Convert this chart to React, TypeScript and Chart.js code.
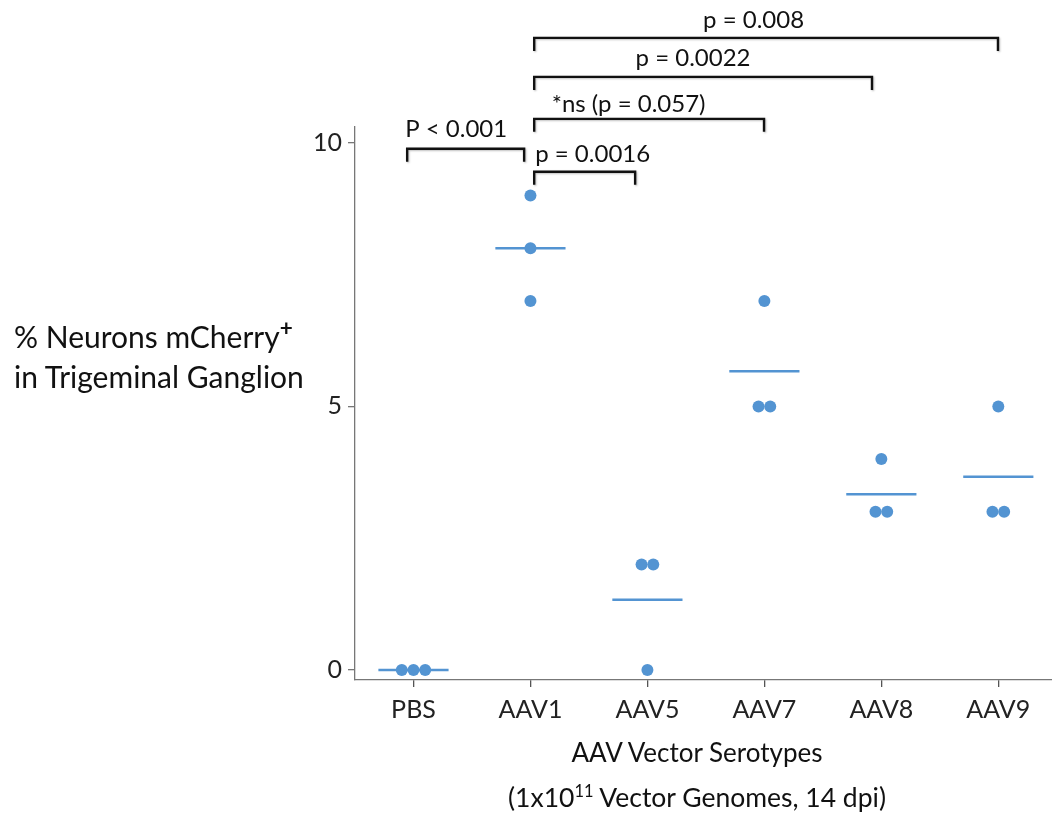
import React, { useEffect, useRef } from 'react';
import { Chart, registerables } from 'chart.js';

Chart.register(...registerables);

// ---- data ----
const categories = ['PBS', 'AAV1', 'AAV5', 'AAV7', 'AAV8', 'AAV9'];
const pbsValues = [0, 0, 0];
const aav1Values = [9, 8, 7];
const aav5Values = [2, 2, 0];
const aav7Values = [7, 5, 5];
const aav8Values = [4, 3, 3];
const aav9Values = [5, 3, 3];
const groupValues = [pbsValues, aav1Values, aav5Values, aav7Values, aav8Values, aav9Values];
const yTickValues = [0, 5, 10];

// comparisons: [from group, to group, label]
const comparisonFrom = [0, 1, 1, 1, 1];
const comparisonTo = [1, 2, 3, 4, 5];
const comparisonLabels = ['P < 0.001', 'p = 0.0016', '*ns (p = 0.057)', 'p = 0.0022', 'p = 0.008'];

// ---- annotation layout (in axis units) ----
const bracketLevels = [9.886, 9.45, 10.455, 11.25, 11.99];
const bracketStartOffset = [-0.054, 0.032, 0.032, 0.032, 0.032];
const bracketEndOffset = [-0.054, -0.105, -0.003, -0.08, -0.003];
const labelCenters = [0.365, 1.532, 1.839, 2.39, 2.908];
const labelBaselines = [10.11, 9.64, 10.59, 11.46, 12.18];

const BLUE = '#5394D2';
const FONT = 'Lato, "Open Sans", sans-serif';

function jitter(values: number[]): { x: number; y: number }[] {
  return values.map((v, i) => {
    const same = values.filter((w) => w === v).length;
    const rank = values.slice(0, i).filter((w) => w === v).length;
    return { x: (rank - (same - 1) / 2) * 0.1, y: v };
  });
}

const bracketPlugin = {
  id: 'brackets',
  afterDraw(chart: any) {
    const { ctx, scales } = chart;
    const xs = scales.x;
    const ys = scales.y;
    ctx.save();
    for (let i = 0; i < comparisonLabels.length; i++) {
      const x1 = xs.getPixelForValue(comparisonFrom[i] + bracketStartOffset[i]);
      const x2 = xs.getPixelForValue(comparisonTo[i] + bracketEndOffset[i]);
      const y = ys.getPixelForValue(bracketLevels[i]);
      const depth = 13;
      ctx.shadowColor = 'rgba(0,0,0,0.25)';
      ctx.shadowBlur = 2;
      ctx.shadowOffsetX = 1;
      ctx.shadowOffsetY = 1;
      ctx.strokeStyle = '#111';
      ctx.lineWidth = 2.4;
      ctx.lineCap = 'butt';
      ctx.lineJoin = 'miter';
      ctx.beginPath();
      ctx.moveTo(x1, y + depth);
      ctx.lineTo(x1, y);
      ctx.lineTo(x2, y);
      ctx.lineTo(x2, y + depth);
      ctx.stroke();
      ctx.shadowColor = 'transparent';
      ctx.fillStyle = '#111';
      ctx.font = '24px ' + FONT;
      ctx.textAlign = 'center';
      ctx.textBaseline = 'alphabetic';
      ctx.fillText(comparisonLabels[i], xs.getPixelForValue(labelCenters[i]), ys.getPixelForValue(labelBaselines[i]));
    }
    ctx.restore();
  },
};

export default function App() {
  const canvasRef = useRef<HTMLCanvasElement | null>(null);

  useEffect(() => {
    if (!canvasRef.current) return;
    const pointSets = groupValues.map((vals, gi) => ({
      type: 'scatter' as const,
      data: jitter(vals).map((p) => ({ x: gi + p.x, y: p.y })),
      backgroundColor: BLUE,
      borderColor: BLUE,
      borderWidth: 0,
      pointRadius: 6,
      order: 0,
    }));
    const meanSets = groupValues.map((vals, gi) => {
      const m = vals.reduce((a, b) => a + b, 0) / vals.length;
      return {
        type: 'line' as const,
        data: [
          { x: gi - 0.3, y: m },
          { x: gi + 0.3, y: m },
        ],
        borderColor: BLUE,
        borderWidth: 2.6,
        pointRadius: 0,
        fill: false,
        order: 1,
      };
    });

    const chart = new Chart(canvasRef.current, {
      type: 'scatter',
      data: { datasets: [...meanSets, ...pointSets] as any },
      options: {
        animation: false,
        responsive: false,
        layout: { autoPadding: false, padding: { top: 127, right: 0, left: 0, bottom: 0 } },
        plugins: { legend: { display: false }, tooltip: { enabled: false } },
        scales: {
          x: {
            type: 'linear',
            min: -0.5,
            max: 5.459,
            afterFit(scale: any) {
              scale.height = 136;
              scale.paddingLeft = 0;
              scale.paddingRight = 0;
            },
            afterBuildTicks(scale: any) {
              scale.ticks = categories.map((_, i) => ({ value: i }));
            },
            ticks: {
              callback: (v: any) => categories[Number(v)] ?? '',
              color: '#222',
              font: { family: FONT, size: 25 },
              padding: 8,
              maxRotation: 0,
              autoSkip: false,
            },
            grid: { drawOnChartArea: false, drawTicks: true, tickLength: 7, color: '#555', lineWidth: 1.3 },
            border: { display: true, color: '#777', width: 1.3 },
          },
          y: {
            type: 'linear',
            min: -0.19,
            max: 10.3,
            afterFit(scale: any) {
              scale.width = 355;
              scale.paddingTop = 0;
              scale.paddingBottom = 0;
            },
            afterBuildTicks(scale: any) {
              scale.ticks = yTickValues.map((v) => ({ value: v }));
            },
            ticks: {
              color: '#222',
              font: { family: FONT, size: 25 },
              padding: 6,
            },
            grid: { drawOnChartArea: false, drawTicks: true, tickLength: 7, color: '#777', lineWidth: 1.3 },
            border: { display: true, color: '#777', width: 1.3 },
          },
        },
      },
      plugins: [bracketPlugin],
    } as any);
    return () => chart.destroy();
  }, []);

  const textStyle: React.CSSProperties = {
    position: 'absolute',
    fontFamily: FONT,
    color: '#111',
    whiteSpace: 'nowrap',
  };

  return (
    <div style={{ position: 'fixed', left: 0, top: 0, width: 1052, height: 816, overflow: 'hidden', background: '#fff' }}>
      <canvas ref={canvasRef} width={1052} height={816} style={{ position: 'absolute', left: 0, top: 0, width: 1052, height: 816 }} />
      <div style={{ ...textStyle, fontSize: 30, left: 14, top: 318, lineHeight: '37px' }}>
        <div>
          % Neurons mCherry
          <span style={{ fontSize: '0.75em', fontWeight: 700, position: 'relative', top: '-0.55em' }}>+</span>
        </div>
        <div>in Trigeminal Ganglion</div>
      </div>
      <div style={{ ...textStyle, fontSize: 26, left: 397, width: 600, top: 733, lineHeight: '38px', textAlign: 'center' }}>
        AAV Vector Serotypes
      </div>
      <div style={{ ...textStyle, fontSize: 26.5, left: 397, width: 600, top: 778, lineHeight: '38px', textAlign: 'center' }}>
        (1x10
        <span style={{ fontSize: '0.62em', position: 'relative', top: '-0.6em' }}>11</span> Vector Genomes, 14 dpi)
      </div>
    </div>
  );
}
